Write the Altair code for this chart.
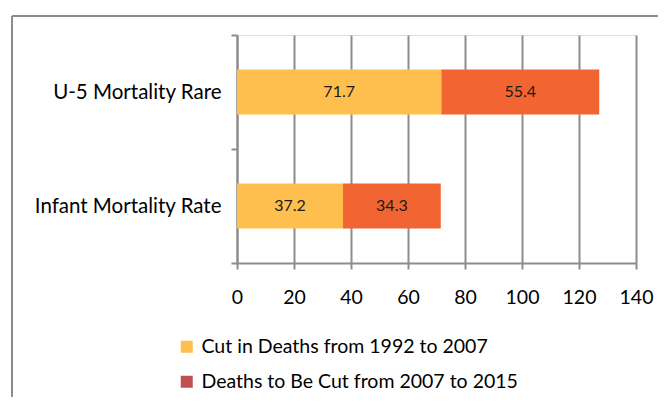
import altair as alt
import pandas as pd

categories = ["U-5 Mortality Rare", "Infant Mortality Rate"]
series = ["Cut in Deaths from 1992 to 2007", "Deaths to Be Cut from 2007 to 2015"]
cut_1992_2007 = [71.7, 37.2]
cut_2007_2015 = [55.4, 34.3]
x_ticks = [0, 20, 40, 60, 80, 100, 120, 140]

bar_colors = ["#FFBF4F", "#F26532"]
legend_colors = ["#FFBF4F", "#C0504D"]

rows = []
for i, c in enumerate(categories):
    rows.append({"cat": c, "series": series[0], "order": 0, "value": cut_1992_2007[i]})
    rows.append({"cat": c, "series": series[1], "order": 1, "value": cut_2007_2015[i]})
df = pd.DataFrame(rows)

FONT = "Lato"
FS = 19.5
GRID = "#8C8C8C"

base = alt.Chart(df).transform_stack(
    stack="value", groupby=["cat"], as_=["x0", "x1"], sort=[alt.SortField("order")]
).transform_calculate(mid="(datum.x0 + datum.x1) / 2")

ysc = alt.Scale(domain=categories, paddingInner=0, paddingOuter=0)

bars = base.mark_bar(size=45).encode(
    x=alt.X("x0:Q", scale=alt.Scale(domain=[0, 140]),
            axis=alt.Axis(values=x_ticks, title=None, grid=True, gridColor=GRID, gridWidth=2,
                          domainColor=GRID, domainWidth=2, tickColor=GRID, tickWidth=2, tickSize=6,
                          labelFont=FONT, labelFontSize=FS, labelColor="#000", labelPadding=19,
                          labelFlush=False, labelOverlap=False)),
    x2="x1:Q",
    y=alt.Y("cat:N", scale=ysc, sort=categories,
            axis=alt.Axis(title=None, tickBand="extent", domainColor=GRID, domainWidth=2,
                          tickColor=GRID, tickWidth=2, tickSize=6, labelFont=FONT, labelFontSize=20.5,
                          labelColor="#000", labelPadding=10, labelLimit=400)),
    fill=alt.Fill("series:N", scale=alt.Scale(domain=series, range=bar_colors), legend=None),
)

labels = base.mark_text(font=FONT, fontSize=16, color="#1a1a1a").encode(
    x="mid:Q",
    y=alt.Y("cat:N", scale=ysc, sort=categories),
    text=alt.Text("value:Q", format=".1f"),
)

legend_layer = base.mark_square(opacity=0, size=1).encode(
    x="x0:Q",
    y=alt.Y("cat:N", scale=ysc, sort=categories),
    color=alt.Color("series:N", scale=alt.Scale(domain=series, range=legend_colors),
                    legend=alt.Legend(title=None, orient="none", legendX=-60, legendY=302,
                                      direction="vertical", symbolType="square", symbolSize=144,
                                      symbolOpacity=1, symbolStrokeWidth=0, labelFont=FONT,
                                      labelFontSize=FS, labelColor="#000", rowPadding=14,
                                      labelOffset=5, labelLimit=600)),
)

border_top = alt.Chart(df).mark_rule(color=GRID, strokeWidth=2).encode(
    x=alt.value(-225), x2=alt.value(430), y=alt.value(-19)
)
border_left = alt.Chart(df).mark_rule(color=GRID, strokeWidth=2).encode(
    x=alt.value(-225), y=alt.value(-19), y2=alt.value(370)
)

chart = alt.layer(border_top, border_left, legend_layer, bars, labels).properties(
    width=399, height=228,
    autosize=alt.AutoSizeParams(type="none"),
    padding={"left": 229, "top": 27, "right": 22, "bottom": 134},
).configure_view(stroke=None).configure(background="white")

chart.save("out.html", embed_options={"renderer": "svg", "actions": False})
